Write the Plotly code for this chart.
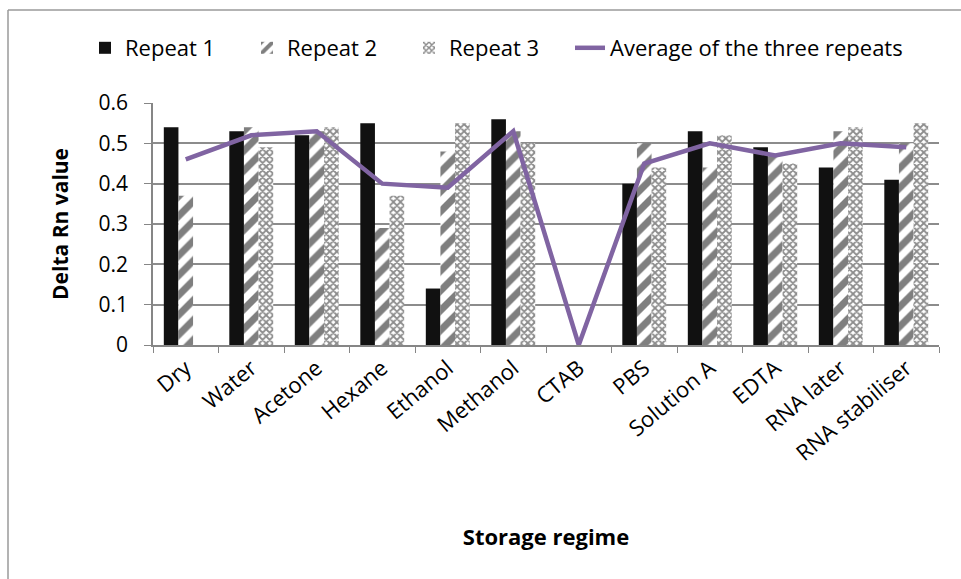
import plotly.graph_objects as go

# Storage regimes and Delta Rn readings per repeat
categories = ["Dry", "Water", "Acetone", "Hexane", "Ethanol", "Methanol",
              "CTAB", "PBS", "Solution A", "EDTA", "RNA later", "RNA stabiliser"]
repeat1 = [0.54, 0.53, 0.52, 0.55, 0.14, 0.56, 0, 0.40, 0.53, 0.49, 0.44, 0.41]
repeat2 = [0.37, 0.54, 0.53, 0.29, 0.48, 0.53, 0, 0.50, 0.44, 0.47, 0.53, 0.50]
repeat3 = [None, 0.49, 0.54, 0.37, 0.55, 0.50, 0, 0.44, 0.52, 0.45, 0.54, 0.55]
average = [0.46, 0.52, 0.53, 0.40, 0.39, 0.53, 0, 0.45, 0.50, 0.47, 0.50, 0.49]
y_ticks = [0, 0.1, 0.2, 0.3, 0.4, 0.5, 0.6]
y_tick_text = ["0", "0.1", "0.2", "0.3", "0.4", "0.5", "0.6"]

FONT = "'Open Sans', sans-serif"
PURPLE = "#8064A2"
AXIS_GREY = "#868686"

fig = go.Figure()
fig.add_trace(go.Bar(name="Repeat 1", x=categories, y=repeat1,
                     marker=dict(color="#111111", line=dict(width=0))))
fig.add_trace(go.Bar(name="Repeat 2", x=categories, y=repeat2,
                     marker=dict(color="white", line=dict(width=0),
                                 pattern=dict(shape="/", fgcolor="#000000",
                                              bgcolor="white", size=14,
                                              solidity=0.5))))
fig.add_trace(go.Bar(name="Repeat 3", x=categories, y=repeat3,
                     marker=dict(color="white", line=dict(width=0),
                                 pattern=dict(shape="x", fgcolor="#1a1a1a",
                                              bgcolor="white", size=5,
                                              solidity=0.6))))
fig.add_trace(go.Scatter(name="Average of the three repeats", x=categories,
                         y=average, mode="lines", legend="legend2",
                         line=dict(color=PURPLE, width=4.5)))

# plot area spans x 153..939, y 103..345 in pixels
PX_W, PX_H, L, T = 786, 242, 153, 103


def px_x(px):
    return (px - L) / PX_W


def px_y(py):
    return (T + PX_H - py) / PX_H


fig.update_layout(
    width=961, height=579,
    margin=dict(l=L, r=961 - L - PX_W, t=T, b=579 - T - PX_H),
    paper_bgcolor="white", plot_bgcolor="white",
    font=dict(family=FONT, size=21, color="#000000"),
    barmode="group", bargap=0.33, bargroupgap=0,
    showlegend=True,
    legend=dict(orientation="h", x=px_x(85), xanchor="left", y=px_y(48),
                yanchor="middle", font=dict(size=22), traceorder="normal",
                entrywidth=117, entrywidthmode="pixels",
                bgcolor="rgba(0,0,0,0)"),
    legend2=dict(orientation="h", x=px_x(570), xanchor="left", y=px_y(48),
                 yanchor="middle", font=dict(size=22),
                 bgcolor="rgba(0,0,0,0)"),
    shapes=[
        dict(type="line", xref="paper", yref="paper",
             x0=px_x(8), x1=px_x(975), y0=px_y(10), y1=px_y(10),
             line=dict(color="#9a9a9a", width=1.5), layer="below"),
        dict(type="line", xref="paper", yref="paper",
             x0=px_x(8), x1=px_x(8), y0=px_y(10), y1=px_y(595),
             line=dict(color="#9a9a9a", width=1.5), layer="below"),
    ],
)

fig.update_xaxes(
    type="category", tickangle=-40, tickson="boundaries",
    ticks="outside", ticklen=6, tickcolor=AXIS_GREY,
    showline=True, linecolor=AXIS_GREY, linewidth=1.5,
    showgrid=False,
    tickfont=dict(size=22),
    title=dict(text="<b>Storage regime</b>", font=dict(size=22), standoff=64),
)
fig.update_yaxes(
    range=[0, 0.6], tickvals=y_ticks, ticktext=y_tick_text,
    ticks="outside", ticklen=7, tickcolor=AXIS_GREY,
    showline=True, linecolor=AXIS_GREY, linewidth=1.5,
    showgrid=True, gridcolor="#8c8c8c", gridwidth=1.5,
    zeroline=False, tickfont=dict(size=21), ticklabelstandoff=12,
    title=dict(text="<b>Delta Rn value</b>", font=dict(size=21), standoff=24),
)

fig.write_html("out.html")
